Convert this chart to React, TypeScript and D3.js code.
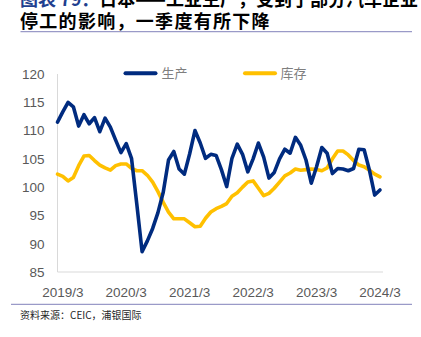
import React from "react";
import * as d3 from "d3";

const months: string[] = [
  "2019/2","2019/3","2019/4","2019/5","2019/6","2019/7","2019/8","2019/9","2019/10","2019/11","2019/12",
  "2020/1","2020/2","2020/3","2020/4","2020/5","2020/6","2020/7","2020/8","2020/9","2020/10","2020/11","2020/12",
  "2021/1","2021/2","2021/3","2021/4","2021/5","2021/6","2021/7","2021/8","2021/9","2021/10","2021/11","2021/12",
  "2022/1","2022/2","2022/3","2022/4","2022/5","2022/6","2022/7","2022/8","2022/9","2022/10","2022/11","2022/12",
  "2023/1","2023/2","2023/3","2023/4","2023/5","2023/6","2023/7","2023/8","2023/9","2023/10","2023/11","2023/12",
  "2024/1","2024/2","2024/3",
];

const production: number[] = [
  111.5, 113.3, 115.0, 114.2, 110.8, 112.8, 111.2, 112.3, 109.8, 112.2, 110.6,
  108.3, 106.1, 107.7, 105.1, 97.0, 88.6, 90.5, 92.7, 95.5, 99.1, 104.8, 106.3,
  103.2, 102.3, 105.9, 110.0, 107.8, 105.1, 105.8, 105.6, 103.1, 100.1, 105.1, 107.6,
  105.8, 102.7, 105.0, 107.8, 105.3, 101.6, 102.6, 105.0, 106.7, 106.0, 108.8, 107.4,
  104.8, 100.7, 103.6, 107.0, 106.0, 102.4, 103.3, 103.2, 102.9, 103.3, 106.7, 106.6,
  103.0, 98.6, 99.5,
];

const inventory: number[] = [
  102.3, 101.9, 101.1, 101.7, 103.8, 105.5, 105.6, 104.7, 103.9, 103.4, 103.0,
  103.8, 104.1, 104.1, 103.3, 102.9, 102.9, 102.1, 100.9, 99.2, 97.3, 95.6, 94.4,
  94.4, 94.4, 93.7, 93.0, 93.1, 94.5, 95.6, 96.2, 96.6, 97.1, 98.4, 99.0,
  100.0, 100.9, 101.1, 99.8, 98.5, 98.9, 99.8, 100.9, 102.0, 102.5, 103.2, 103.0,
  103.1, 103.2, 103.1, 102.9, 103.4, 105.0, 106.4, 106.4, 105.7, 104.7, 103.9, 103.6,
  103.0, 102.3, 101.8,
];

const xTickLabels: string[] = ["2019/3", "2020/3", "2021/3", "2022/3", "2023/3", "2024/3"];
const yTicks: number[] = [85, 90, 95, 100, 105, 110, 115, 120];
const seriesNames: string[] = ["生产", "库存"];

const W = 421;
const H = 337;
const BLUE = "#002b7f";
const YELLOW = "#ffc000";

export default function App() {
  const x = d3.scaleLinear().domain([0, months.length - 1]).range([57.5, 380]);
  const y = d3.scaleLinear().domain([85, 120]).range([272, 74]);

  const line = d3
    .line<number>()
    .x((_, i) => x(i))
    .y((d) => y(d));

  const latin = "'Liberation Sans', Arial, sans-serif";
  const cjk = "'Noto Sans CJK SC', sans-serif";

  return (
    <div style={{ position: "absolute", left: 0, top: 0, width: W, height: H, background: "#fff" }}>
      <svg width={W} height={H} style={{ display: "block" }}>
        <rect x={0} y={0} width={W} height={H} fill="#fff" />
        {/* title (first line is cut off at the top, as in the source) */}
        <text x={20} y={5.5} fontFamily={cjk} fontWeight="bold" fontSize={18} fill="#000">
          <tspan fill="#1f3f8f">图表 79：</tspan>
          <tspan>日本——工业生产，受到了部分汽车企业</tspan>
        </text>
        <text x={20} y={27.5} fontFamily={cjk} fontWeight="bold" fontSize={18} letterSpacing={1.3} fill="#000">
          停工的影响，一季度有所下降
        </text>
        <line x1={20.5} x2={412} y1={31.7} y2={31.7} stroke="#9a9ac8" strokeWidth={1.3} />

        {/* axes */}
        <line x1={x(0)} x2={x(0)} y1={y(120)} y2={y(85)} stroke="#d9d9d9" strokeWidth={1} />
        <line x1={x(0)} x2={383} y1={y(85)} y2={y(85)} stroke="#d9d9d9" strokeWidth={1} />

        {yTicks.map((t) => (
          <text
            key={t}
            x={44.5}
            y={y(t)}
            dy="0.36em"
            textAnchor="end"
            fontFamily={latin}
            fontSize={13.5}
            fill="#595959"
          >
            {t}
          </text>
        ))}

        {xTickLabels.map((lab) => (
          <text
            key={lab}
            x={x(months.indexOf(lab))}
            y={296.5}
            textAnchor="middle"
            fontFamily={latin}
            fontSize={13.5}
            fill="#595959"
          >
            {lab}
          </text>
        ))}

        {/* series */}
        <path d={line(inventory) || ""} fill="none" stroke={YELLOW} strokeWidth={3.6} strokeLinejoin="round" strokeLinecap="round" />
        <path d={line(production) || ""} fill="none" stroke={BLUE} strokeWidth={3.6} strokeLinejoin="round" strokeLinecap="round" />

        {/* legend */}
        <line x1={125.5} x2={155.5} y1={73.3} y2={73.3} stroke={BLUE} strokeWidth={4} strokeLinecap="round" />
        <text x={161.5} y={73.3} dy="0.36em" fontFamily={cjk} fontSize={13} fill="#7f7f7f">
          {seriesNames[0]}
        </text>
        <line x1={245} x2={275} y1={73.3} y2={73.3} stroke={YELLOW} strokeWidth={4} strokeLinecap="round" />
        <text x={280.5} y={73.3} dy="0.36em" fontFamily={cjk} fontSize={13} fill="#7f7f7f">
          {seriesNames[1]}
        </text>

        {/* footer */}
        <line x1={11} x2={412} y1={304.3} y2={304.3} stroke="#9a9ac8" strokeWidth={1.3} />
        <text x={20} y={319} fontFamily={cjk} fontSize={10} fill="#262626">
          资料来源：CEIC，浦银国际
        </text>
      </svg>
    </div>
  );
}
